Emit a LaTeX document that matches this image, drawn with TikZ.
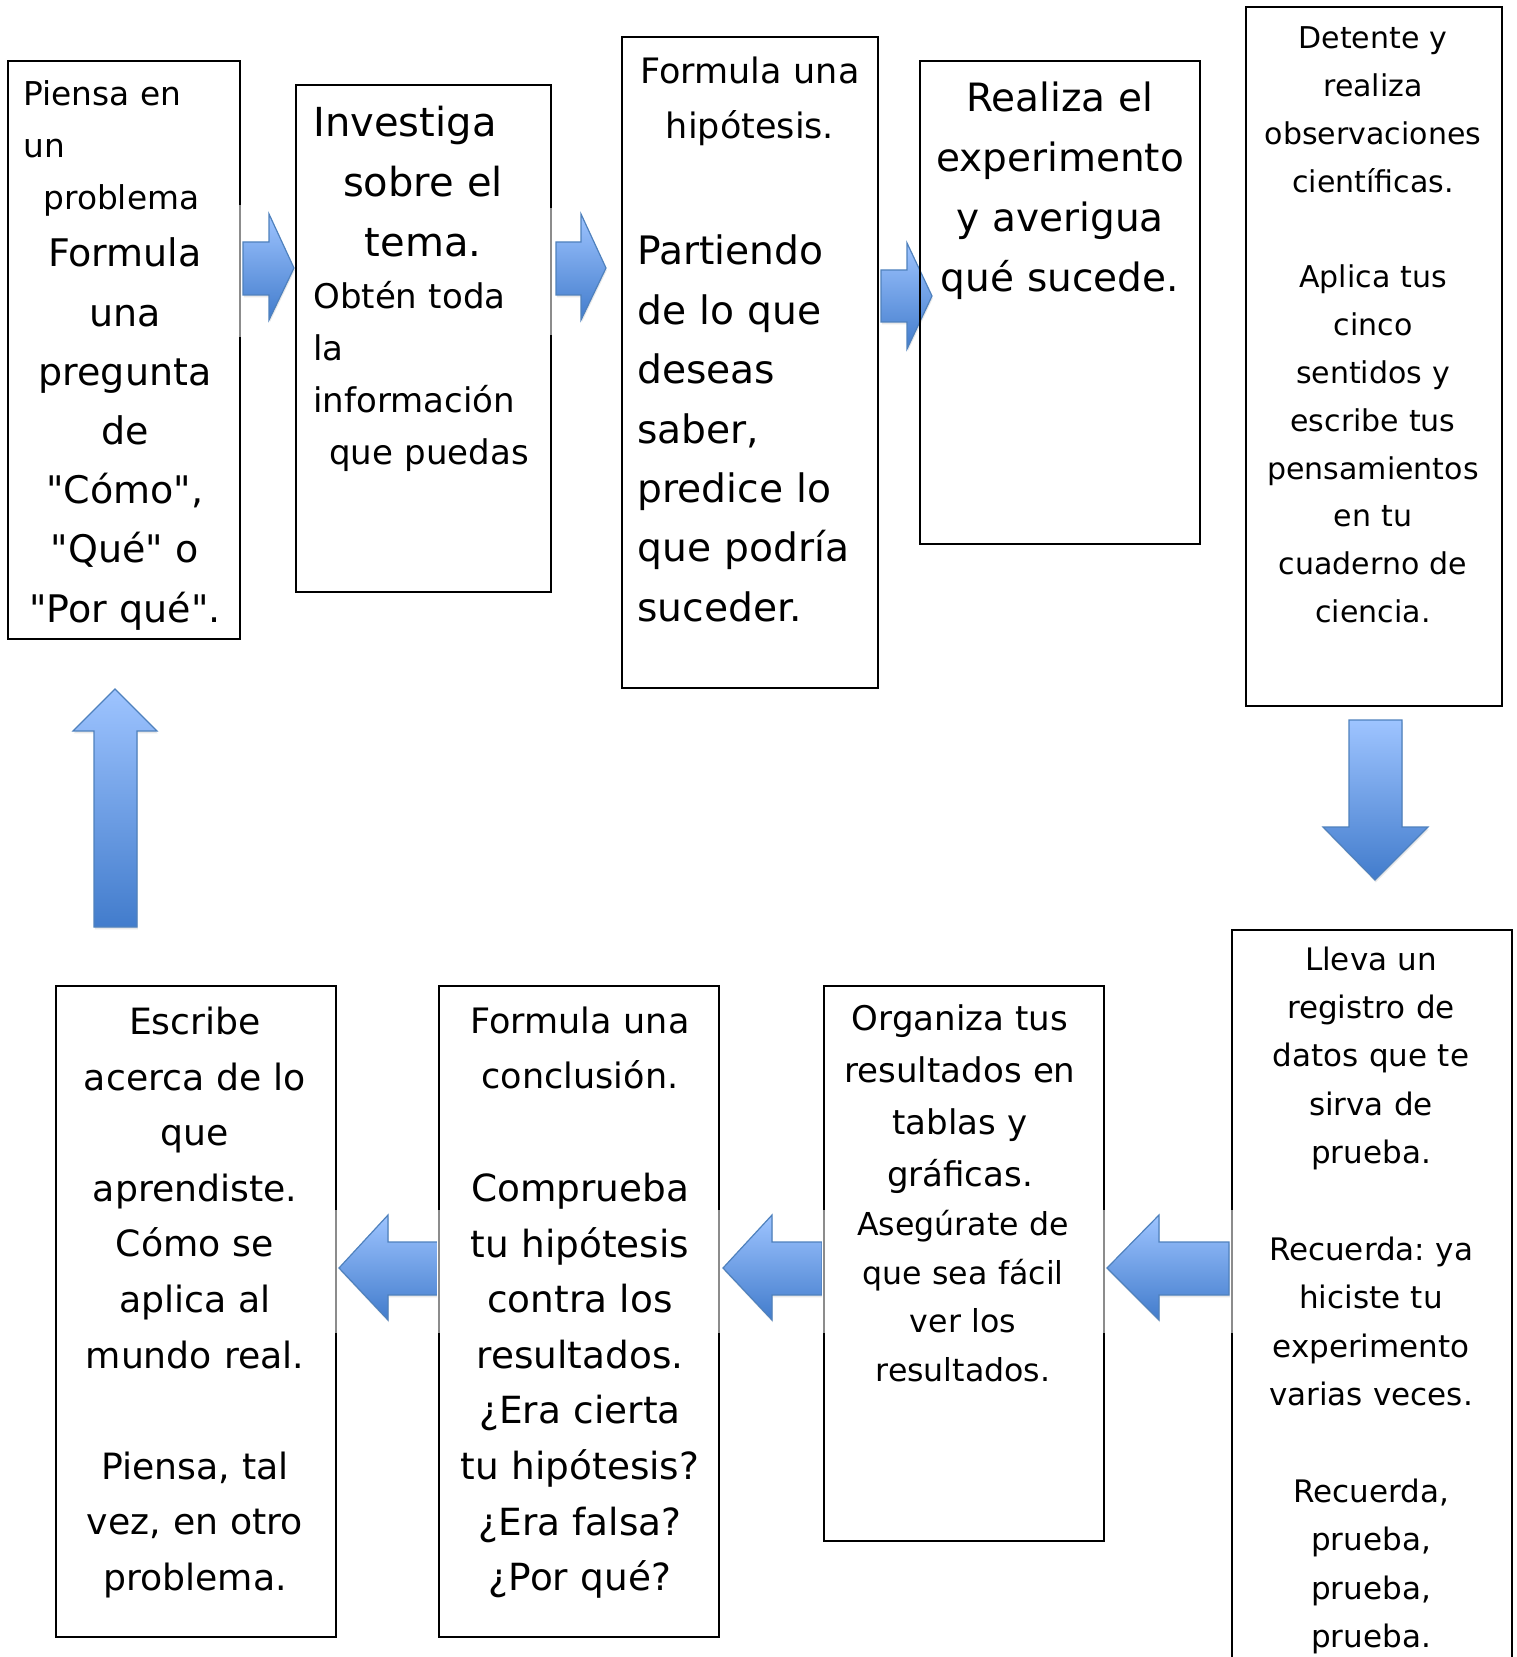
\documentclass[tikz,border=0pt]{standalone}
\usepackage{fontspec}
\setmainfont{DejaVu Sans}
\usepackage{tikz}
\usetikzlibrary{shadows}
\frenchspacing

\definecolor{arrowtop}{RGB}{158,196,255}
\definecolor{arrowbot}{RGB}{66,124,204}
\definecolor{arrowedge}{RGB}{79,129,189}

\tikzset{
    stepbox/.style={draw=black, line width=1pt, inner sep=0pt},
    bodytext/.style={inner sep=0pt, text width=130pt, align=center, anchor=base},
    lefttext/.style={inner sep=0pt, text width=130pt, align=left, anchor=base west},
    blockarrow/.style={draw=arrowedge, line width=0.6pt, top color=arrowtop, bottom color=arrowbot,
        drop shadow={shadow xshift=0.4pt, shadow yshift=-1.2pt, opacity=0.18}},
    seam/.style={draw=black!45, line width=0.7pt, preaction={draw=white, line width=1.6pt}}
}

\begin{document}
\begin{tikzpicture}[x=0.5pt, y=-0.5pt]

\useasboundingbox (0,0) rectangle (1516,1657);

% Block arrows, top row
\draw[blockarrow] (243,242) -- (269,242) -- (269,214) -- (294,268) -- (269,320) -- (269,295) -- (243,295) -- cycle;
\draw[blockarrow] (556,242) -- (581,242) -- (581,214) -- (606,268) -- (581,320) -- (581,295) -- (556,295) -- cycle;
\draw[blockarrow] (881,270) -- (907,270) -- (907,243) -- (932,296) -- (907,349) -- (907,322) -- (881,322) -- cycle;

% Down and up
\draw[blockarrow] (1349,720) -- (1402,720) -- (1402,827) -- (1428,827) -- (1375,880) -- (1323,827) -- (1349,827) -- cycle;
\draw[blockarrow] (94,927) -- (94,731) -- (73,731) -- (115,689) -- (157,731) -- (137,731) -- (137,927) -- cycle;

% Block arrows, bottom row
\draw[blockarrow] (1229,1242) -- (1159,1242) -- (1159,1215) -- (1107,1268) -- (1159,1320) -- (1159,1295) -- (1229,1295) -- cycle;
\draw[blockarrow] (822,1242) -- (772,1242) -- (772,1215) -- (723,1268) -- (772,1320) -- (772,1295) -- (822,1295) -- cycle;
\draw[blockarrow] (438,1242) -- (388,1242) -- (388,1215) -- (339,1268) -- (388,1320) -- (388,1295) -- (438,1295) -- cycle;

% Boxes
\node[stepbox, minimum width=116pt, minimum height=289pt] (pensar) at (124,350) {};
\node[stepbox, minimum width=127.5pt, minimum height=253.5pt] (investigar) at (423.5,338.5) {};
\node[stepbox, minimum width=128pt, minimum height=325.5pt] (hipotesis) at (750,362.5) {};
\node[stepbox, minimum width=140pt, minimum height=241.5pt] (experimento) at (1060,302.5) {};
\node[stepbox, minimum width=128pt, minimum height=349.5pt] (observar) at (1374,356.5) {};
\node[stepbox, minimum width=140pt, minimum height=367.5pt] (registro) at (1372,1297.5) {};
\node[stepbox, minimum width=140pt, minimum height=277.5pt] (organizar) at (964,1263.5) {};
\node[stepbox, minimum width=140pt, minimum height=325.5pt] (conclusion) at (579,1311.5) {};
\node[stepbox, minimum width=140pt, minimum height=325.5pt] (escribir) at (196,1311.5) {};

% Gaps behind the arrows
\draw[seam] (240,205) -- (240,337);
\draw[seam] (551,208) -- (551,335);
\draw[seam] (336,1210) -- (336,1333);
\draw[seam] (439,1210) -- (439,1333);
\draw[seam] (719,1210) -- (719,1333);
\draw[seam] (824,1210) -- (824,1333);
\draw[seam] (1104,1210) -- (1104,1333);
\draw[seam] (1232,1210) -- (1232,1333);

% Texts
\node[lefttext, font=\fontsize{16.4}{26}\selectfont] (pensar-a) at (23,105.5)
    {Piensa en\\un\\\hspace*{10pt}problema};
\node[bodytext, text width=110pt, font=\fontsize{19}{29.6}\selectfont] (pensar-b) at (125,267)
    {Formula\\una\\pregunta\\de\\\textquotedbl Cómo\textquotedbl,\\\textquotedbl Qué\textquotedbl{} o\\\textquotedbl Por qué\textquotedbl.};

\node[bodytext, font=\fontsize{20}{30}\selectfont] (investigar-a) at (423,136.5)
    {\hspace*{-18pt}Investiga\\sobre el\\tema.};
\node[lefttext, font=\fontsize{17}{26}\selectfont] (investigar-b) at (313,309)
    {Obtén toda\\la\\información\\\hspace*{8pt}que puedas};

\node[bodytext, font=\fontsize{17.5}{27.5}\selectfont] (hipotesis-a) at (750,84)
    {Formula una\\hipótesis.};
\node[lefttext, font=\fontsize{19.6}{29.7}\selectfont] (hipotesis-b) at (637,265)
    {Partiendo\\de lo que\\deseas\\saber,\\predice lo\\que podría\\suceder.};

\node[bodytext, font=\fontsize{19.5}{30}\selectfont] (experimento-a) at (1060,111.5)
    {Realiza el\\experimento\\y averigua\\qué sucede.};

\node[bodytext, font=\fontsize{15}{23.9}\selectfont] (observar-a) at (1373,49)
    {Detente y\\realiza\\observaciones\\científicas.\\[23.9pt]Aplica tus\\cinco\\sentidos y\\escribe tus\\pensamientos\\en tu\\cuaderno de\\ciencia.};

\node[bodytext, font=\fontsize{15.5}{24.2}\selectfont] (registro-a) at (1371,970)
    {Lleva un\\registro de\\datos que te\\sirva de\\prueba.\\[24.2pt]Recuerda: ya\\hiciste tu\\experimento\\varias veces.\\[24.2pt]Recuerda,\\prueba,\\prueba,\\prueba.};

\node[bodytext, font=\fontsize{17}{26}\selectfont] (organizar-a) at (960,1030.5)
    {Organiza tus\\resultados en\\tablas y\\gráficas.};
\node[bodytext, font=\fontsize{15.8}{24.3}\selectfont] (organizar-b) at (963,1235.5)
    {Asegúrate de\\que sea fácil\\ver los\\resultados.};

\node[bodytext, font=\fontsize{17.5}{27.5}\selectfont] (conclusion-a) at (580,1033.5)
    {Formula una\\conclusión.};
\node[bodytext, font=\fontsize{18.7}{27.8}\selectfont] (conclusion-b) at (580,1201.5)
    {Comprueba\\tu hipótesis\\contra los\\resultados.\\¿Era cierta\\tu hipótesis?\\¿Era falsa?\\¿Por qué?};

\node[bodytext, font=\fontsize{18.1}{27.8}\selectfont] (escribir-a) at (195,1034.5)
    {Escribe\\acerca de lo\\que\\aprendiste.\\Cómo se\\aplica al\\mundo real.\\[27.8pt]Piensa, tal\\vez, en otro\\problema.};

\end{tikzpicture}
\end{document}
